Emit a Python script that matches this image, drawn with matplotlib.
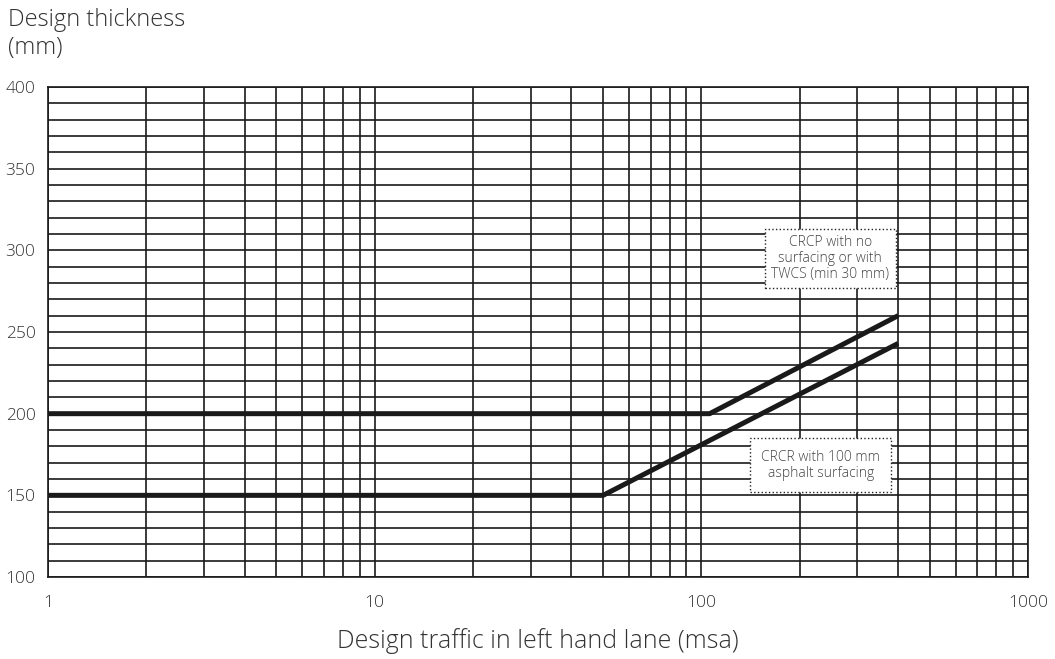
import numpy as np
import matplotlib.pyplot as plt
from matplotlib.ticker import FixedLocator, NullFormatter

plt.rcParams['font.family'] = ['Open Sans', 'DejaVu Sans']
plt.rcParams['font.weight'] = 'light'

# design curves: traffic (msa) vs thickness (mm)
crcp_traffic = [1, 106, 400]
crcp_thickness = [200, 200, 260]
crcr_traffic = [1, 50, 400]
crcr_thickness = [150, 150, 243]

x_ticks = [1, 10, 100, 1000]
x_tick_labels = ['1', '10', '100', '1000']
y_ticks = [100, 150, 200, 250, 300, 350, 400]

fig = plt.figure(figsize=(10.55, 6.59), dpi=100)
ax = fig.add_axes([0.0455, 0.1244, 0.929, 0.7436])

ax.set_xscale('log')
ax.set_xlim(1, 1000)
ax.set_ylim(100, 400)

# log grid on x, 10 mm grid on y
minor_x = [m * 10 ** d for d in range(3) for m in range(2, 10)]
ax.xaxis.set_minor_locator(FixedLocator(minor_x))
ax.xaxis.set_minor_formatter(NullFormatter())
ax.set_xticks(x_ticks)
ax.set_xticklabels(x_tick_labels)
ax.set_yticks(y_ticks)
ax.yaxis.set_minor_locator(FixedLocator(np.arange(100, 401, 10)))
ax.grid(which='both', color='#1a1a1a', linewidth=1.2)
ax.set_axisbelow(True)
ax.tick_params(which='both', length=0, labelsize=12.5, colors='#333333')
ax.tick_params(axis='x', pad=13)
ax.tick_params(axis='y', pad=9)
for s in ax.spines.values():
    s.set_color('#1a1a1a')
    s.set_linewidth(1.2)

ax.plot(crcp_traffic, crcp_thickness, color='#1a1a1a', linewidth=3.6,
        solid_capstyle='butt')
ax.plot(crcr_traffic, crcr_thickness, color='#1a1a1a', linewidth=3.6,
        solid_capstyle='butt')

box = dict(boxstyle='square,pad=0.45', facecolor='white', edgecolor='#222222',
           linestyle=':', linewidth=1.0)
ax.text(248, 295, 'CRCP with no\nsurfacing or with\nTWCS (min 30 mm)',
        ha='center', va='center', fontsize=10, color='#444444', bbox=box,
        linespacing=1.1)
ax.text(232, 168.5, 'CRCR with 100 mm\nasphalt surfacing',
        ha='center', va='center', fontsize=10, color='#444444',
        bbox=dict(box, boxstyle='square,pad=0.8'), linespacing=1.1)

fig.text(0.008, 0.988, 'Design thickness\n(mm)', ha='left', va='top',
         fontsize=17, color='#333333', linespacing=1.2)
fig.text(0.51, 0.008, 'Design traffic in left hand lane (msa)', ha='center',
         va='bottom', fontsize=18, color='#333333')

fig.savefig('out.png', dpi=100)
